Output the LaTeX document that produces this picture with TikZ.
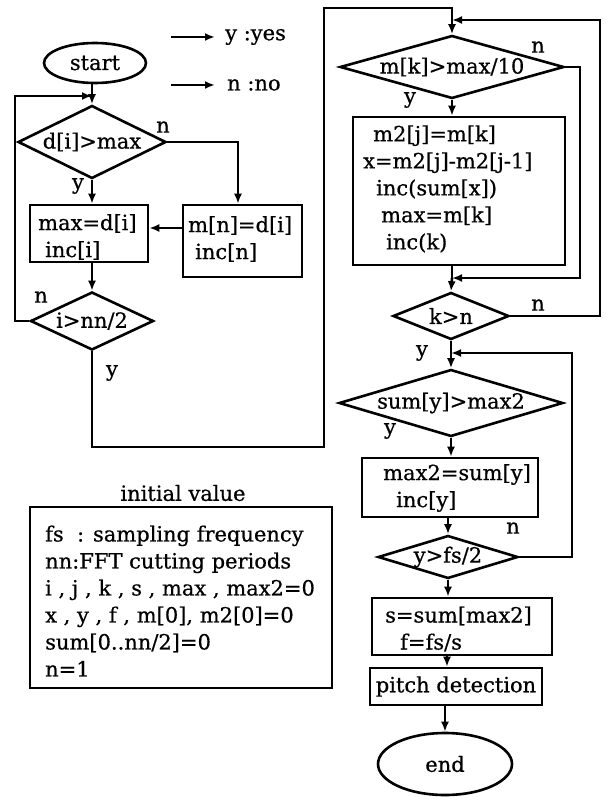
\documentclass[tikz,border=0pt]{standalone}
\usepackage{fontspec}
\setmainfont[FakeBold=0.6]{DejaVu Serif}
\usetikzlibrary{shapes.geometric,arrows.meta}
\begin{document}
\begin{tikzpicture}[x=1pt,y=-1pt,
  every node/.style={font=\fontsize{21}{27}\selectfont},
  ln/.style={line width=2.6pt},
  arr/.style={line width=2.6pt,-{Latex[length=10pt,width=8pt]}},
  dia/.style={diamond,draw,line width=2.6pt,inner sep=0pt},
  box/.style={rectangle,draw,line width=2.6pt,inner sep=0pt},
  oval/.style={ellipse,draw,line width=2.6pt,inner sep=0pt},
  txt/.style={inner sep=0pt,anchor=west,align=left},
  lab/.style={inner sep=0pt}
]
\useasboundingbox (0,0) rectangle (605,797);

% legend
\coordinate (ly1) at (171,37); \coordinate (ly2) at (215,37);
\coordinate (ln1) at (171,85); \coordinate (ln2) at (215,85);
\draw[arr] (ly1) -- (ly2);
\draw[arr] (ln1) -- (ln2);
\node[txt] (legy) at (225,37) {y :yes};
\node[txt] (legn) at (227,85) {n :no};

% left column
\node[oval,minimum width=102,minimum height=40] (start) at (95,63) {start};
\coordinate (j1) at (92,96);
\node[dia,minimum width=148,minimum height=73] (d) at (92,142) {\makebox[0pt]{d[i]>max}};
\node[box,minimum width=118,minimum height=57] (maxd) at (89,233.5) {};
\node[txt] (maxdt) at (38,237) {max=d[i]\\\hspace*{7pt}inc[i]};
\node[box,minimum width=119,minimum height=72] (mn) at (242.5,241) {};
\node[txt] (mnt) at (188,239) {m[n]=d[i]\\\hspace*{7pt}inc[n]};
\node[dia,minimum width=123,minimum height=58] (i) at (92,321) {\makebox[0pt]{i>nn/2}};

\coordinate (s0) at (92,83);
\draw[ln] (s0) -- (j1);
\draw[arr] (j1) -- (d.north);
\coordinate (dr) at (238,142);
\draw[arr] (d.east) -- (dr) -- (dr |- mn.north);
\draw[arr] (d.south) -- (d.south |- maxd.north);
\draw[arr] (mn.west |- 0,228) -- (maxd.east |- 0,228);
\draw[arr] (maxd.south -| i.north) -- (i.north);
\coordinate (L1) at (15,321);
\draw[arr] (i.west) -- (L1) |- (j1);
\coordinate (B1) at (92,447);
\coordinate (B2) at (324,447);
\coordinate (B3) at (324,8);

\node[lab] (dn) at (163,127) {n};
\node[lab] (dy) at (78,186) {y};
\node[lab] (in) at (41,297) {n};
\node[lab] (iy) at (112,373) {y};

% right column
\node[dia,minimum width=224,minimum height=63] (mk) at (452,67) {\makebox[0pt]{m[k]>max/10}};
\coordinate (jr1) at (452,20);
\node[box,minimum width=212,minimum height=148] (m2) at (459,191) {};
\node[txt] (m2t) at (363,189) {\hspace*{10pt}m2[j]=m[k]\\x=m2[j]-m2[j-1]\\\hspace*{13pt}inc(sum[x])\\\hspace*{18pt}max=m[k]\\\hspace*{23pt}inc(k)};
\coordinate (jr2) at (452,278);
\node[dia,minimum width=116,minimum height=47] (kn) at (451,316) {\makebox[0pt]{k>n}};
\coordinate (jr3) at (451,353);
\node[dia,minimum width=224,minimum height=67] (sum) at (451,403) {\makebox[0pt]{sum[y]>max2}};
\node[box,minimum width=176,minimum height=59] (m2b) at (450,487.5) {};
\node[txt] (m2bt) at (383,488) {max2=sum[y]\\\hspace*{13pt}inc[y]};
\node[dia,minimum width=140,minimum height=43] (yfs) at (448,557) {\makebox[0pt]{y>fs/2}};
\node[box,minimum width=180,minimum height=57] (sb) at (462,626.5) {};
\node[txt] (sbt) at (385,629) {s=sum[max2]\\\hspace*{15pt}f=fs/s};
\node[box,minimum width=172,minimum height=37] (pd) at (456,686.5) {pitch detection};
\node[oval,minimum width=134,minimum height=62] (end) at (445,764) {end};

\draw[arr] (i.south) -- (B1) -- (B2) -- (B3) -| (mk.north);
\draw[arr] (mk.south) -- (mk.south |- m2.north);
\draw[arr] (mk.east) -- (580,67) |- (jr2);
\draw[ln] (m2.south -| jr2) -- (jr2);
\draw[arr] (jr2) -- (kn.north);
\draw[arr] (kn.east) -- (600,316) |- (jr1);
\draw[ln] (kn.south) -- (jr3);
\draw[arr] (jr3) -- (sum.north);
\draw[arr] (sum.south) -- (sum.south |- m2b.north);
\draw[arr] (m2b.south -| yfs.north) -- (yfs.north);
\draw[arr] (yfs.east) -- (572,557) |- (jr3);
\draw[arr] (yfs.south) -- (yfs.south |- sb.north);
\draw[arr] (sb.south -| 447,0) -- (pd.north -| 447,0);
\draw[arr] (pd.south -| end.north) -- (end.north);

\node[lab] (mkn) at (538,47) {n};
\node[lab] (mky) at (410,100) {y};
\node[lab] (knn) at (538,305) {n};
\node[lab] (kny) at (422,353) {y};
\node[lab] (sumy) at (390,431) {y};
\node[lab] (yfsn) at (513,528) {n};

% initial value
\node[inner sep=0pt] (ivt) at (183,493) {initial value};
\node[box,minimum width=302,minimum height=181] (iv) at (181,597.5) {};
\node[txt] (ivb) at (45,601) {fs~ : sampling frequency\\nn:FFT cutting periods\\i , j , k , s , max , max2=0\\x , y , f , m[0], m2[0]=0\\sum[0..nn/2]=0\\n=1};
\end{tikzpicture}
\end{document}
